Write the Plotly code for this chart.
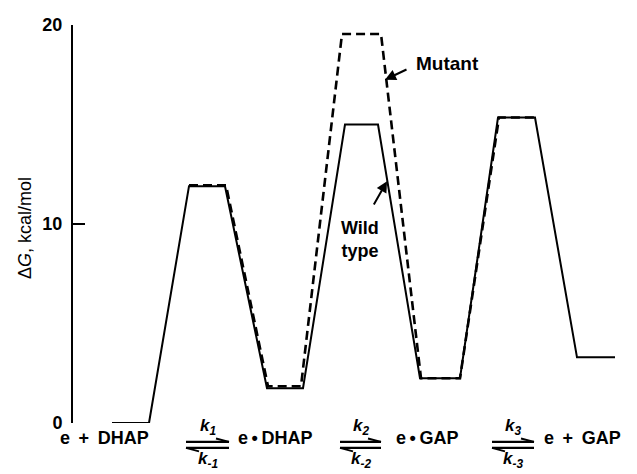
import plotly.graph_objects as go

# Reaction-coordinate positions (arbitrary horizontal units) and free energies (kcal/mol)
wt_x = [112, 149, 189, 225, 267, 303, 345, 378, 420, 460, 498, 535, 577, 615]
wt_g = [0.0, 0.0, 11.9, 11.9, 1.75, 1.75, 15.0, 15.0, 2.25, 2.25, 15.35, 15.35, 3.3, 3.3]

mut_x = [189, 226, 268, 301, 342, 381, 421, 460, 499, 535]
mut_g = [11.95, 11.95, 1.85, 1.85, 19.55, 19.55, 2.25, 2.25, 15.35, 15.35]

y_ticks = [0, 10, 20]
NB = "\u00a0\u2009"  # wide space
TH = "\u2009"        # thin space
species = ["e" + NB + "+" + NB + "DHAP", "e" + TH + "\u2022" + TH + "DHAP",
           "e" + TH + "\u2022" + TH + "GAP", "e" + NB + "+" + NB + "GAP"]
species_x = [104, 275, 427, 582]
rate_fwd = ["1", "2", "3"]
rate_rev = ["-1", "-2", "-3"]
arrow_x = [(186, 229), (340, 381), (492, 534)]

# page geometry (browser body has an 8px margin)
OFF = 8
W, H = 637 - OFF, 474 - OFF
PLOT_L, PLOT_R, PLOT_T, PLOT_B = 73, 630, 23, 423   # page pixels of plot area
L = PLOT_L - OFF
T = PLOT_T - OFF
R = W - (PLOT_R - OFF)
B = H - (PLOT_B - OFF)
PW, PH = PLOT_R - PLOT_L, PLOT_B - PLOT_T

def px(xp):
    return (xp - PLOT_L) / PW

def py(yp):
    return (PLOT_B - yp) / PH

FONT = "Liberation Sans, Arial, Helvetica, sans-serif"

fig = go.Figure()
fig.add_trace(go.Scatter(x=wt_x, y=wt_g, mode="lines",
                         line=dict(color="black", width=2), hoverinfo="skip"))
fig.add_trace(go.Scatter(x=mut_x, y=mut_g, mode="lines",
                         line=dict(color="black", width=2.6, dash="9px,5px"), hoverinfo="skip"))

ann = []
shapes = []

# species labels
for s, xs in zip(species, species_x):
    ann.append(dict(x=px(xs), y=py(438), xref="paper", yref="paper", text="<b>" + s + "</b>",
                    showarrow=False, xanchor="center", yanchor="middle",
                    font=dict(family=FONT, size=18, color="black")))

# equilibrium harpoons and rate constants
for (x0, x1), f, r in zip(arrow_x, rate_fwd, rate_rev):
    xc = (x0 + x1) / 2
    shapes.append(dict(type="line", xref="paper", yref="paper",
                       x0=px(x0), x1=px(x1), y0=py(442), y1=py(442),
                       line=dict(color="black", width=2.4)))
    shapes.append(dict(type="line", xref="paper", yref="paper",
                       x0=px(x1), x1=px(x1 - 13), y0=py(442), y1=py(438.5),
                       line=dict(color="black", width=2)))
    shapes.append(dict(type="line", xref="paper", yref="paper",
                       x0=px(x0), x1=px(x1), y0=py(448), y1=py(448),
                       line=dict(color="black", width=2.4)))
    shapes.append(dict(type="line", xref="paper", yref="paper",
                       x0=px(x0), x1=px(x0 + 13), y0=py(448), y1=py(451.5),
                       line=dict(color="black", width=2)))
    ann.append(dict(x=px(xc), y=py(427), xref="paper", yref="paper",
                    text="<b><i>k</i></b><sub><b><i>" + f + "</i></b></sub>",
                    showarrow=False, xanchor="center", yanchor="middle",
                    font=dict(family=FONT, size=17, color="black")))
    ann.append(dict(x=px(xc), y=py(460), xref="paper", yref="paper",
                    text="<b><i>k</i></b><sub><b><i>" + r + "</i></b></sub>",
                    showarrow=False, xanchor="center", yanchor="middle",
                    font=dict(family=FONT, size=17, color="black")))

# curve labels
ann.append(dict(x=px(447), y=py(62), xref="paper", yref="paper", text="<b>Mutant</b>",
                showarrow=False, xanchor="center", yanchor="middle",
                font=dict(family=FONT, size=19, color="black")))
ann.append(dict(x=385, y=17.25, xref="x", yref="y", text="", showarrow=True,
                axref="x", ayref="y", ax=408, ay=17.8, arrowhead=2, arrowsize=1.1,
                arrowwidth=2, arrowcolor="black", standoff=0))
ann.append(dict(x=px(360), y=py(239), xref="paper", yref="paper", text="<b>Wild<br>type</b>",
                showarrow=False, xanchor="center", yanchor="middle",
                font=dict(family=FONT, size=18, color="black")))
ann.append(dict(x=387, y=12.15, xref="x", yref="y", text="", showarrow=True,
                axref="x", ayref="y", ax=373, ay=10.9, arrowhead=2, arrowsize=1.1,
                arrowwidth=2, arrowcolor="black", standoff=0))

# y-axis title
ann.append(dict(x=px(25), y=py(227), xref="paper", yref="paper",
                text="\u0394<i>G</i>, kcal/mol", textangle=-90,
                showarrow=False, xanchor="center", yanchor="middle",
                font=dict(family=FONT, size=18, color="black")))

fig.update_layout(
    width=W, height=H,
    margin=dict(l=L, r=R, t=T, b=B, pad=0),
    paper_bgcolor="white", plot_bgcolor="white",
    showlegend=False,
    annotations=ann, shapes=shapes,
    xaxis=dict(range=[PLOT_L, PLOT_R], visible=False, fixedrange=True),
    yaxis=dict(range=[0, 20], tickvals=y_ticks, ticktext=["<b>%d</b>" % v for v in y_ticks],
               showline=True, linecolor="black", linewidth=2,
               ticks="inside", ticklen=12, tickwidth=2, tickcolor="black",
               ticklabelstandoff=5,
               showgrid=False, zeroline=False, fixedrange=True,
               tickfont=dict(family=FONT, size=18, color="black")),
)

fig.write_html("out.html")
